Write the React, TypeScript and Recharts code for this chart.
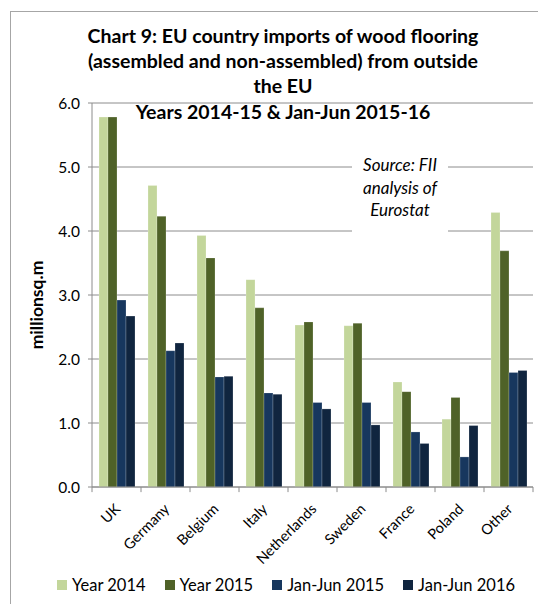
import React from 'react';
import { BarChart, Bar, XAxis, YAxis, CartesianGrid, Legend, ReferenceLine } from 'recharts';

const categories = ['UK', 'Germany', 'Belgium', 'Italy', 'Netherlands', 'Sweden', 'France', 'Poland', 'Other'];
const year2014 = [5.78, 4.71, 3.93, 3.24, 2.53, 2.52, 1.64, 1.06, 4.29];
const year2015 = [5.78, 4.23, 3.58, 2.80, 2.58, 2.56, 1.49, 1.40, 3.69];
const janJun2015 = [2.92, 2.13, 1.72, 1.47, 1.32, 1.32, 0.86, 0.47, 1.79];
const janJun2016 = [2.67, 2.25, 1.73, 1.45, 1.22, 0.97, 0.68, 0.96, 1.82];
const yTicks = [0, 1, 2, 3, 4, 5, 6];

const seriesNames = ['Year 2014', 'Year 2015', 'Jan-Jun 2015', 'Jan-Jun 2016'];
const seriesColors = ['#C3D69B', '#4F6228', '#17375E', '#10253F'];

const data = categories.map((c, i) => ({
  name: c,
  y2014: year2014[i],
  y2015: year2015[i],
  h2015: janJun2015[i],
  h2016: janJun2016[i],
}));
const keys = ['y2014', 'y2015', 'h2015', 'h2016'];

const FONT = 'Lato, "Open Sans", sans-serif';
const GRID = '#8c8c8c';

const XTick = (props: any) => {
  const { x, y, payload } = props;
  return (
    <g transform={`translate(${x + 1},${y + 11})`}>
      <text x={0} y={0} textAnchor="end" dominantBaseline="central" transform="rotate(-45)"
        fontSize={14.5} fontFamily={FONT} fill="#000">{payload.value}</text>
    </g>
  );
};

const LegendContent = () => (
  <div style={{ display: 'flex', justifyContent: 'flex-start', alignItems: 'center', gap: 19, fontFamily: FONT, fontSize: 16.5, color: '#000', paddingLeft: 57, height: 22 }}>
    {seriesNames.map((n, i) => (
      <div key={n} style={{ display: 'flex', alignItems: 'center' }}>
        <span style={{ display: 'inline-block', width: 10, height: 10, background: seriesColors[i], marginRight: 5 }} />
        <span>{n}</span>
      </div>
    ))}
  </div>
);

export default function App() {
  return (
    <div style={{ position: 'absolute', left: 0, top: 0, width: 538, height: 604, overflow: 'hidden', background: '#fff' }}>
      <div style={{ position: 'absolute', left: 10, top: 11, width: 700, height: 800, border: '1px solid #a6a6a6' }} />
      <BarChart width={538} height={604} data={data} margin={{ top: 103, right: 5, left: 0, bottom: 0 }}
        barCategoryGap={7} barGap={0}>
        <CartesianGrid vertical={false} stroke={GRID} />
        <XAxis dataKey="name" height={87} interval={0} tickLine={false} stroke={GRID} tick={<XTick />} />
        <YAxis width={92} domain={[0, 6]} ticks={yTicks} interval={0} tickSize={4} tickMargin={8} stroke={GRID}
          tickFormatter={(v: number) => v.toFixed(1)}
          tick={{ fontSize: 15.5, fontFamily: FONT, fill: '#000' }}
          label={{
            content: () => {
              const cy = 305;
              return (
                <text x={36} y={cy} transform={`rotate(-90, 36, ${cy})`} textAnchor="middle" dominantBaseline="central"
                  fontSize={17.5} fontWeight="bold" fontFamily={FONT} fill="#000">millionsq.m</text>
              );
            },
          }}
        />
        <Legend verticalAlign="bottom" wrapperStyle={{ height: 30 }} content={<LegendContent />} />
        {keys.map((k, i) => (
          <Bar key={k} dataKey={k} name={seriesNames[i]} fill={seriesColors[i]} stroke="#ffffff" strokeOpacity={0.35} strokeWidth={0.6} isAnimationActive={false} />
        ))}
        {categories.map((c) => (
          <ReferenceLine key={c} segment={[{ x: c, y: 0 }, { x: c, y: -0.08 }]} position="start" stroke={GRID} ifOverflow="visible" />
        ))}
        <ReferenceLine segment={[{ x: 'Other', y: 0 }, { x: 'Other', y: -0.08 }]} position="end" stroke={GRID} ifOverflow="visible" />
      </BarChart>
      <div style={{ position: 'absolute', left: 0, width: 566, top: 23, textAlign: 'center', fontFamily: FONT, fontWeight: 'bold', fontSize: 19.5, lineHeight: '25px', color: '#000' }}>
        <div>Chart 9: EU country imports of wood flooring</div>
        <div>(assembled and non-assembled) from outside</div>
        <div>the EU</div>
        <div style={{ marginTop: 1 }}>Years 2014-15 &amp; Jan-Jun 2015-16</div>
      </div>
      <div style={{ position: 'absolute', left: 352, top: 149, width: 96, height: 90, background: '#fff', textAlign: 'center', fontFamily: FONT, fontStyle: 'italic', fontSize: 17, lineHeight: '22.5px', color: '#000', paddingTop: 5, boxSizing: 'border-box' }}>
        <div>Source: FII</div>
        <div>analysis of</div>
        <div>Eurostat</div>
      </div>
    </div>
  );
}
